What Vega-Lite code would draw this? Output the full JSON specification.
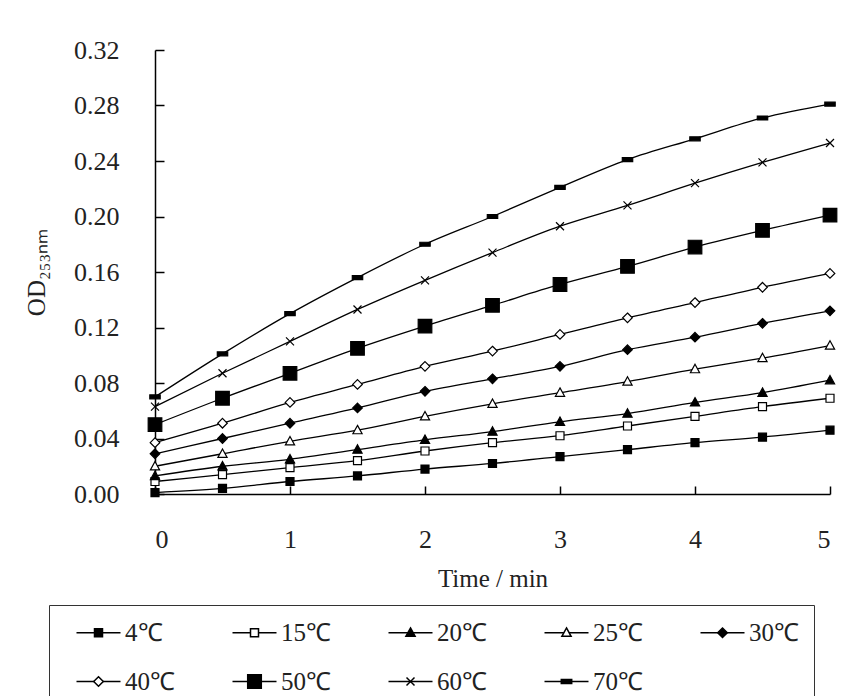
{
  "$schema": "https://vega.github.io/schema/vega-lite/v6.json",
  "width": 675,
  "height": 444,
  "autosize": {"type": "none"},
  "padding": {"left": 155, "top": 50, "right": 23, "bottom": 202},
  "background": "white",
  "config": {
    "view": {"stroke": null},
    "font": "Liberation Serif",
    "axis": {"grid": false, "domainColor": "black", "tickColor": "black", "domainWidth": 1.5, "tickWidth": 1.5, "labelColor": "#222", "titleColor": "#222", "labelFont": "Liberation Serif", "titleFont": "Liberation Serif", "labelFontSize": 26, "titleFontSize": 25, "titleFontWeight": "normal"}
  },
  "data": {"values": [
    {"t":0,"temp":"4℃","od":0.001},{"t":0.5,"temp":"4℃","od":0.004},{"t":1,"temp":"4℃","od":0.009},{"t":1.5,"temp":"4℃","od":0.013},{"t":2,"temp":"4℃","od":0.018},{"t":2.5,"temp":"4℃","od":0.022},{"t":3,"temp":"4℃","od":0.027},{"t":3.5,"temp":"4℃","od":0.032},{"t":4,"temp":"4℃","od":0.037},{"t":4.5,"temp":"4℃","od":0.041},{"t":5,"temp":"4℃","od":0.046},
    {"t":0,"temp":"15℃","od":0.009},{"t":0.5,"temp":"15℃","od":0.014},{"t":1,"temp":"15℃","od":0.019},{"t":1.5,"temp":"15℃","od":0.024},{"t":2,"temp":"15℃","od":0.031},{"t":2.5,"temp":"15℃","od":0.037},{"t":3,"temp":"15℃","od":0.042},{"t":3.5,"temp":"15℃","od":0.049},{"t":4,"temp":"15℃","od":0.056},{"t":4.5,"temp":"15℃","od":0.063},{"t":5,"temp":"15℃","od":0.069},
    {"t":0,"temp":"20℃","od":0.013},{"t":0.5,"temp":"20℃","od":0.020},{"t":1,"temp":"20℃","od":0.025},{"t":1.5,"temp":"20℃","od":0.032},{"t":2,"temp":"20℃","od":0.039},{"t":2.5,"temp":"20℃","od":0.045},{"t":3,"temp":"20℃","od":0.052},{"t":3.5,"temp":"20℃","od":0.058},{"t":4,"temp":"20℃","od":0.066},{"t":4.5,"temp":"20℃","od":0.073},{"t":5,"temp":"20℃","od":0.082},
    {"t":0,"temp":"25℃","od":0.020},{"t":0.5,"temp":"25℃","od":0.029},{"t":1,"temp":"25℃","od":0.038},{"t":1.5,"temp":"25℃","od":0.046},{"t":2,"temp":"25℃","od":0.056},{"t":2.5,"temp":"25℃","od":0.065},{"t":3,"temp":"25℃","od":0.073},{"t":3.5,"temp":"25℃","od":0.081},{"t":4,"temp":"25℃","od":0.090},{"t":4.5,"temp":"25℃","od":0.098},{"t":5,"temp":"25℃","od":0.107},
    {"t":0,"temp":"30℃","od":0.029},{"t":0.5,"temp":"30℃","od":0.040},{"t":1,"temp":"30℃","od":0.051},{"t":1.5,"temp":"30℃","od":0.062},{"t":2,"temp":"30℃","od":0.074},{"t":2.5,"temp":"30℃","od":0.083},{"t":3,"temp":"30℃","od":0.092},{"t":3.5,"temp":"30℃","od":0.104},{"t":4,"temp":"30℃","od":0.113},{"t":4.5,"temp":"30℃","od":0.123},{"t":5,"temp":"30℃","od":0.132},
    {"t":0,"temp":"40℃","od":0.037},{"t":0.5,"temp":"40℃","od":0.051},{"t":1,"temp":"40℃","od":0.066},{"t":1.5,"temp":"40℃","od":0.079},{"t":2,"temp":"40℃","od":0.092},{"t":2.5,"temp":"40℃","od":0.103},{"t":3,"temp":"40℃","od":0.115},{"t":3.5,"temp":"40℃","od":0.127},{"t":4,"temp":"40℃","od":0.138},{"t":4.5,"temp":"40℃","od":0.149},{"t":5,"temp":"40℃","od":0.159},
    {"t":0,"temp":"50℃","od":0.050},{"t":0.5,"temp":"50℃","od":0.069},{"t":1,"temp":"50℃","od":0.087},{"t":1.5,"temp":"50℃","od":0.105},{"t":2,"temp":"50℃","od":0.121},{"t":2.5,"temp":"50℃","od":0.136},{"t":3,"temp":"50℃","od":0.151},{"t":3.5,"temp":"50℃","od":0.164},{"t":4,"temp":"50℃","od":0.178},{"t":4.5,"temp":"50℃","od":0.190},{"t":5,"temp":"50℃","od":0.201},
    {"t":0,"temp":"60℃","od":0.063},{"t":0.5,"temp":"60℃","od":0.087},{"t":1,"temp":"60℃","od":0.110},{"t":1.5,"temp":"60℃","od":0.133},{"t":2,"temp":"60℃","od":0.154},{"t":2.5,"temp":"60℃","od":0.174},{"t":3,"temp":"60℃","od":0.193},{"t":3.5,"temp":"60℃","od":0.208},{"t":4,"temp":"60℃","od":0.224},{"t":4.5,"temp":"60℃","od":0.239},{"t":5,"temp":"60℃","od":0.253},
    {"t":0,"temp":"70℃","od":0.070},{"t":0.5,"temp":"70℃","od":0.101},{"t":1,"temp":"70℃","od":0.130},{"t":1.5,"temp":"70℃","od":0.156},{"t":2,"temp":"70℃","od":0.180},{"t":2.5,"temp":"70℃","od":0.200},{"t":3,"temp":"70℃","od":0.221},{"t":3.5,"temp":"70℃","od":0.241},{"t":4,"temp":"70℃","od":0.256},{"t":4.5,"temp":"70℃","od":0.271},{"t":5,"temp":"70℃","od":0.281}
  ]},
  "layer": [
    {
      "mark": {"type": "line", "interpolate": "monotone", "strokeWidth": 1.3},
      "encoding": {
        "x": {"field": "t", "type": "quantitative", "scale": {"domain": [0, 5], "nice": false}, "axis": {"values": [0,1,2,3,4,5], "format": "d", "tickSize": -8, "labelPadding": 40, "title": "Time / min", "titlePadding": 14}},
        "y": {"field": "od", "type": "quantitative", "scale": {"domain": [0, 0.32], "nice": false}, "axis": {"values": [0,0.04,0.08,0.12,0.16,0.2,0.24,0.28,0.32], "format": ".2f", "tickSize": -9, "labelPadding": 45, "title": "OD₂₅₃ₙₘ", "titlePadding": 24}},
        "detail": {"field": "temp"},
        "stroke": {"field": "temp", "type": "nominal", "scale": {
          "domain": ["70℃","60℃","50℃","40℃","30℃","25℃","20℃","15℃","4℃"],
          "range": ["black","black","black","black","black","black","black","black","black"]},
          "legend": {"title": null, "orient": "none", "legendX": -106, "legendY": 555, "direction": "horizontal", "columns": 5, "gridAlign": "all", "columnPadding": 45, "rowPadding": 23, "padding": 15, "symbolSize": 64, "symbolOffset": 22, "labelOffset": 14, "labelFont": "Liberation Serif", "labelFontSize": 25, "labelOpacity": 0, "labelLimit": 200, "symbolType": "M-5.5,0H5.5", "symbolStrokeWidth": 1.5, "symbolStrokeColor": "black", "zindex": 1}}
      }
    },
    {
      "mark": {"type": "point", "stroke": "black", "strokeWidth": 1.2, "opacity": 1, "size": 64},
      "encoding": {
        "x": {"field": "t", "type": "quantitative"},
        "y": {"field": "od", "type": "quantitative"},
        "shape": {"field": "temp", "type": "nominal", "scale": {
          "domain": ["4℃","15℃","20℃","25℃","30℃","40℃","50℃","60℃","70℃"],
          "range": ["M-1,-1H1V1H-1Z","M-1,-1H1V1H-1Z","M0,-1.2L1.15,0.9H-1.15Z","M0,-1.2L1.15,0.9H-1.15Z","M0,-1.2L1.2,0L0,1.2L-1.2,0Z","M0,-1.2L1.2,0L0,1.2L-1.2,0Z","M-1.7,-1.7H1.7V1.7H-1.7Z","M-1,-1L1,1M-1,1L1,-1","M-1.3,-0.5H1.3V0.5H-1.3Z"]},
          "legend": {"title": null, "orient": "none", "legendX": -106, "legendY": 555, "direction": "horizontal", "columns": 5, "gridAlign": "all", "columnPadding": 45, "rowPadding": 23, "padding": 15, "symbolSize": 64, "symbolOffset": 22, "labelOffset": 14, "labelFont": "Liberation Serif", "labelFontSize": 25, "labelColor": "#222", "labelLimit": 200, "strokeColor": "#333", "zindex": 2,
            "encode": {"symbols": {"update": {
              "stroke": {"value": "black"},
              "strokeWidth": {"value": 1.5},
              "opacity": {"value": 1}
            }}}
          }},
        "fill": {"field": "temp", "type": "nominal", "scale": {
          "domain": ["4℃","15℃","20℃","25℃","30℃","40℃","50℃","60℃","70℃"],
          "range": ["black","white","black","white","black","white","black","white","black"]}}
      }
    }
  ]
}
